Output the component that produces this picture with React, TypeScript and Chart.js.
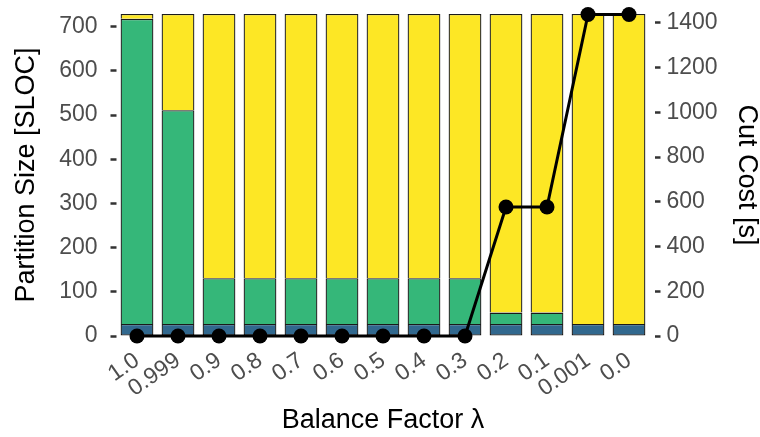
import React, { useEffect, useRef } from 'react';
import { Chart, registerables } from 'chart.js';

Chart.register(...registerables);

const categories = ['1.0', '0.999', '0.9', '0.8', '0.7', '0.6', '0.5', '0.4', '0.3', '0.2', '0.1', '0.001', '0.0'];
const sharedPart = [27, 27, 27, 27, 27, 27, 27, 27, 27, 27, 27, 27, 27];
const partitionA = [691, 484, 104, 104, 104, 104, 104, 104, 104, 26, 26, 0, 0];
const partitionB = [11, 218, 598, 598, 598, 598, 598, 598, 598, 676, 676, 702, 702];
const cutCost = [0, 0, 0, 0, 0, 0, 0, 0, 0, 577, 577, 1438, 1438];
const leftTicks = [0, 100, 200, 300, 400, 500, 600, 700];
const rightTicks = [0, 200, 400, 600, 800, 1000, 1200, 1400];

const FONT = 'Liberation Sans, Arial, sans-serif';

const zeroPad = (s: any) => {
  s.paddingTop = 0;
  s.paddingBottom = 0;
  s.paddingLeft = 0;
  s.paddingRight = 0;
};

export default function App() {
  const ref = useRef<HTMLCanvasElement>(null);

  useEffect(() => {
    const tickFont = { family: FONT, size: 23 };
    const titleFont = { family: FONT, size: 27, lineHeight: 1 };
    const barBorder = { top: 1.3, left: 1.3, right: 1.3, bottom: 0 };
    const tickGrid = {
      drawOnChartArea: false,
      drawTicks: true,
      tickLength: 11,
      tickWidth: 2.5,
      tickColor: '#333333',
      tickBorderDash: [0, 5, 6, 100],
    };
    const chart = new Chart(ref.current as HTMLCanvasElement, {
      type: 'bar',
      data: {
        labels: categories,
        datasets: [
          {
            type: 'line',
            label: 'Cut Cost',
            data: cutCost,
            yAxisID: 'y1',
            borderColor: '#000000',
            backgroundColor: '#000000',
            borderWidth: 3,
            pointRadius: 7.5,
            pointBackgroundColor: '#000000',
            pointBorderWidth: 0,
            order: 0,
            clip: false,
          } as any,
          {
            label: 'Shared',
            data: sharedPart,
            yAxisID: 'y',
            stack: 's',
            backgroundColor: '#31688E',
            borderColor: '#1a1a1a',
            borderWidth: 1.3,
            borderSkipped: false,
            barPercentage: 0.8,
            categoryPercentage: 1,
            order: 1,
          },
          {
            label: 'Partition A',
            data: partitionA,
            yAxisID: 'y',
            stack: 's',
            backgroundColor: '#35B779',
            borderColor: '#1a1a1a',
            borderWidth: barBorder,
            borderSkipped: false,
            barPercentage: 0.8,
            categoryPercentage: 1,
            order: 1,
          },
          {
            label: 'Partition B',
            data: partitionB,
            yAxisID: 'y',
            stack: 's',
            backgroundColor: '#FDE725',
            borderColor: '#1a1a1a',
            borderWidth: barBorder,
            borderSkipped: false,
            barPercentage: 0.8,
            categoryPercentage: 1,
            order: 1,
          },
        ],
      },
      options: {
        animation: false,
        responsive: false,
        maintainAspectRatio: false,
        layout: { padding: { top: 14, left: 0, right: 0, bottom: 0 } },
        plugins: { legend: { display: false }, tooltip: { enabled: false } },
        scales: {
          x: {
            stacked: true,
            offset: true,
            grid: { display: false, drawTicks: false },
            border: { display: false },
            ticks: {
              font: tickFont,
              color: '#4d4d4d',
              minRotation: 35,
              maxRotation: 35,
              autoSkip: false,
              padding: 11,
            },
            title: {
              display: true,
              text: 'Balance Factor λ',
              font: titleFont,
              color: '#000000',
              padding: { top: 0, bottom: 3 },
            },
            afterFit: (s: any) => {
              s.height = 101;
              zeroPad(s);
            },
          },
          y: {
            position: 'left',
            stacked: true,
            min: 0,
            max: 729,
            grid: tickGrid,
            border: { display: false },
            ticks: { font: tickFont, color: '#4d4d4d', padding: 8, callback: (v: any) => String(v) },
            afterBuildTicks: (s: any) => {
              s.ticks = leftTicks.map((v) => ({ value: v }));
            },
            title: {
              display: true,
              text: 'Partition Size [SLOC]',
              font: titleFont,
              color: '#000000',
              padding: { top: 13, bottom: 0 },
            },
            afterFit: (s: any) => {
              s.width = 116.5;
              zeroPad(s);
            },
          },
          y1: {
            position: 'right',
            min: 0,
            max: 1440,
            grid: tickGrid,
            border: { display: false },
            ticks: { font: tickFont, color: '#4d4d4d', padding: 6, callback: (v: any) => String(v) },
            afterBuildTicks: (s: any) => {
              s.ticks = rightTicks.map((v) => ({ value: v }));
            },
            title: {
              display: true,
              text: 'Cut Cost [s]',
              font: titleFont,
              color: '#000000',
              padding: { top: 0, bottom: 0 },
            },
            afterFit: (s: any) => {
              s.width = 110.5;
              zeroPad(s);
            },
          },
        },
      } as any,
    });
    return () => chart.destroy();
  }, []);

  return (
    <div style={{ position: 'fixed', left: 0, top: 0, width: 760, height: 437, background: '#ffffff' }}>
      <canvas ref={ref} width={760} height={437} style={{ display: 'block' }} />
    </div>
  );
}
